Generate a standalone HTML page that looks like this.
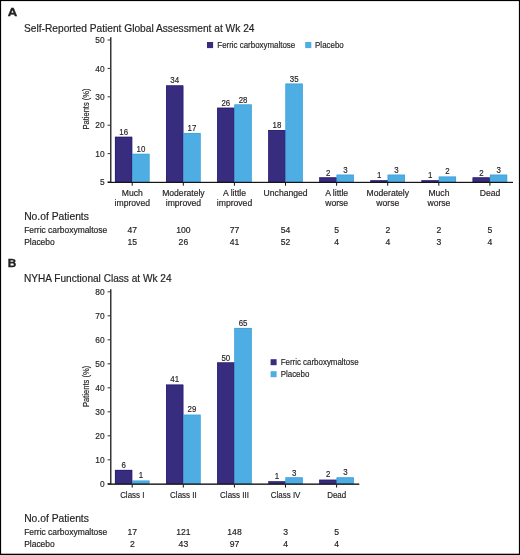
<!DOCTYPE html>
<html><head><meta charset="utf-8"><title>Figure</title>
<style>
html,body{margin:0;padding:0;background:#fff;}
body{width:520px;height:555px;overflow:hidden;}
svg{display:block;font-family:"Liberation Sans", sans-serif;will-change:transform;}
text{fill:#231f20;stroke:#231f20;stroke-width:0.18px;}
</style></head>
<body>
<svg width="520" height="555" viewBox="0 0 520 555">
<rect x="0.5" y="0.5" width="519" height="554" fill="none" stroke="#000" stroke-width="1.2"/>
<rect x="1.00" y="553.00" width="518.00" height="1.00" fill="#000" fill-opacity="0.22"/>
<text x="7.70" y="16.30" font-size="10.7" font-weight="bold" textLength="9.43" lengthAdjust="spacingAndGlyphs" style="stroke-width:0.35px">A</text>
<text x="24.00" y="31.90" font-size="10.2">Self-Reported Patient Global Assessment at Wk 24</text>
<rect x="207.00" y="42.00" width="6.10" height="6.10" fill="#372c7e"/>
<text x="217.30" y="47.80" font-size="8.7" textLength="77.87" lengthAdjust="spacingAndGlyphs">Ferric carboxymaltose</text>
<rect x="305.20" y="42.00" width="6.10" height="6.10" fill="#4eade2"/>
<text x="315.10" y="47.80" font-size="8.7" textLength="28.61" lengthAdjust="spacingAndGlyphs">Placebo</text>
<rect x="110.00" y="37.20" width="1.50" height="145.10" fill="#363636"/>
<rect x="107.60" y="181.50" width="2.60" height="1.00" fill="#363636"/>
<text x="104.60" y="185.20" font-size="9.2" text-anchor="end" textLength="4.66" lengthAdjust="spacingAndGlyphs">5</text>
<rect x="107.60" y="153.10" width="2.60" height="1.00" fill="#363636"/>
<text x="104.60" y="156.80" font-size="9.2" text-anchor="end" textLength="9.31" lengthAdjust="spacingAndGlyphs">10</text>
<rect x="107.60" y="124.70" width="2.60" height="1.00" fill="#363636"/>
<text x="104.60" y="128.40" font-size="9.2" text-anchor="end" textLength="9.31" lengthAdjust="spacingAndGlyphs">20</text>
<rect x="107.60" y="96.30" width="2.60" height="1.00" fill="#363636"/>
<text x="104.60" y="100.00" font-size="9.2" text-anchor="end" textLength="9.31" lengthAdjust="spacingAndGlyphs">30</text>
<rect x="107.60" y="67.90" width="2.60" height="1.00" fill="#363636"/>
<text x="104.60" y="71.60" font-size="9.2" text-anchor="end" textLength="9.31" lengthAdjust="spacingAndGlyphs">40</text>
<rect x="107.60" y="39.50" width="2.60" height="1.00" fill="#363636"/>
<text x="104.60" y="43.20" font-size="9.2" text-anchor="end" textLength="9.31" lengthAdjust="spacingAndGlyphs">50</text>
<rect x="114.95" y="136.80" width="17.25" height="45.50" fill="#372c7e"/>
<rect x="132.20" y="153.84" width="17.25" height="28.46" fill="#4eade2"/>
<rect x="115.25" y="137.10" width="16.65" height="44.90" fill="none" stroke="#261b74" stroke-width="0.6"/>
<rect x="132.50" y="154.14" width="16.65" height="27.86" fill="none" stroke="#3d9fdb" stroke-width="0.6"/>
<text x="123.67" y="135.10" font-size="9.2" text-anchor="middle" textLength="8.80" lengthAdjust="spacingAndGlyphs">16</text>
<text x="140.92" y="151.80" font-size="9.2" text-anchor="middle" textLength="8.80" lengthAdjust="spacingAndGlyphs">10</text>
<rect x="131.70" y="182.80" width="1.00" height="2.90" fill="#141414"/>
<rect x="166.05" y="85.48" width="17.25" height="96.82" fill="#372c7e"/>
<rect x="183.30" y="132.97" width="17.25" height="49.33" fill="#4eade2"/>
<rect x="166.35" y="85.78" width="16.65" height="96.22" fill="none" stroke="#261b74" stroke-width="0.6"/>
<rect x="183.60" y="133.27" width="16.65" height="48.73" fill="none" stroke="#3d9fdb" stroke-width="0.6"/>
<text x="174.77" y="82.60" font-size="9.2" text-anchor="middle" textLength="8.80" lengthAdjust="spacingAndGlyphs">34</text>
<text x="192.02" y="130.70" font-size="9.2" text-anchor="middle" textLength="8.80" lengthAdjust="spacingAndGlyphs">17</text>
<rect x="182.80" y="182.80" width="1.00" height="2.90" fill="#141414"/>
<rect x="217.15" y="107.75" width="17.25" height="74.55" fill="#372c7e"/>
<rect x="234.40" y="104.51" width="17.25" height="77.79" fill="#4eade2"/>
<rect x="217.45" y="108.05" width="16.65" height="73.95" fill="none" stroke="#261b74" stroke-width="0.6"/>
<rect x="234.70" y="104.81" width="16.65" height="77.19" fill="none" stroke="#3d9fdb" stroke-width="0.6"/>
<text x="225.87" y="105.80" font-size="9.2" text-anchor="middle" textLength="8.80" lengthAdjust="spacingAndGlyphs">26</text>
<text x="243.12" y="102.90" font-size="9.2" text-anchor="middle" textLength="8.80" lengthAdjust="spacingAndGlyphs">28</text>
<rect x="233.90" y="182.80" width="1.00" height="2.90" fill="#141414"/>
<rect x="268.25" y="130.02" width="17.25" height="52.28" fill="#372c7e"/>
<rect x="285.50" y="83.64" width="17.25" height="98.66" fill="#4eade2"/>
<rect x="268.55" y="130.32" width="16.65" height="51.68" fill="none" stroke="#261b74" stroke-width="0.6"/>
<rect x="285.80" y="83.94" width="16.65" height="98.06" fill="none" stroke="#3d9fdb" stroke-width="0.6"/>
<text x="276.98" y="127.80" font-size="9.2" text-anchor="middle" textLength="8.80" lengthAdjust="spacingAndGlyphs">18</text>
<text x="294.23" y="82.30" font-size="9.2" text-anchor="middle" textLength="8.80" lengthAdjust="spacingAndGlyphs">35</text>
<rect x="285.00" y="182.80" width="1.00" height="2.90" fill="#141414"/>
<rect x="319.35" y="177.46" width="17.25" height="4.84" fill="#372c7e"/>
<rect x="336.60" y="174.71" width="17.25" height="7.59" fill="#4eade2"/>
<rect x="319.65" y="177.76" width="16.65" height="4.24" fill="none" stroke="#261b74" stroke-width="0.6"/>
<rect x="336.90" y="175.01" width="16.65" height="6.99" fill="none" stroke="#3d9fdb" stroke-width="0.6"/>
<text x="328.08" y="175.90" font-size="9.2" text-anchor="middle" textLength="4.40" lengthAdjust="spacingAndGlyphs">2</text>
<text x="345.33" y="173.10" font-size="9.2" text-anchor="middle" textLength="4.40" lengthAdjust="spacingAndGlyphs">3</text>
<rect x="336.10" y="182.80" width="1.00" height="2.90" fill="#141414"/>
<rect x="370.45" y="180.36" width="17.25" height="1.94" fill="#372c7e"/>
<rect x="387.70" y="174.71" width="17.25" height="7.59" fill="#4eade2"/>
<rect x="370.75" y="180.66" width="16.65" height="1.34" fill="none" stroke="#261b74" stroke-width="0.6"/>
<rect x="388.00" y="175.01" width="16.65" height="6.99" fill="none" stroke="#3d9fdb" stroke-width="0.6"/>
<text x="379.18" y="178.20" font-size="9.2" text-anchor="middle" textLength="4.40" lengthAdjust="spacingAndGlyphs">1</text>
<text x="396.43" y="173.30" font-size="9.2" text-anchor="middle" textLength="4.40" lengthAdjust="spacingAndGlyphs">3</text>
<rect x="387.20" y="182.80" width="1.00" height="2.90" fill="#141414"/>
<rect x="421.55" y="180.36" width="17.25" height="1.94" fill="#372c7e"/>
<rect x="438.80" y="176.61" width="17.25" height="5.69" fill="#4eade2"/>
<rect x="421.85" y="180.66" width="16.65" height="1.34" fill="none" stroke="#261b74" stroke-width="0.6"/>
<rect x="439.10" y="176.91" width="16.65" height="5.09" fill="none" stroke="#3d9fdb" stroke-width="0.6"/>
<text x="430.28" y="178.20" font-size="9.2" text-anchor="middle" textLength="4.40" lengthAdjust="spacingAndGlyphs">1</text>
<text x="447.53" y="174.20" font-size="9.2" text-anchor="middle" textLength="4.40" lengthAdjust="spacingAndGlyphs">2</text>
<rect x="438.30" y="182.80" width="1.00" height="2.90" fill="#141414"/>
<rect x="472.65" y="177.46" width="17.25" height="4.84" fill="#372c7e"/>
<rect x="489.90" y="174.71" width="17.25" height="7.59" fill="#4eade2"/>
<rect x="472.95" y="177.76" width="16.65" height="4.24" fill="none" stroke="#261b74" stroke-width="0.6"/>
<rect x="490.20" y="175.01" width="16.65" height="6.99" fill="none" stroke="#3d9fdb" stroke-width="0.6"/>
<text x="481.38" y="175.90" font-size="9.2" text-anchor="middle" textLength="4.40" lengthAdjust="spacingAndGlyphs">2</text>
<text x="498.62" y="173.30" font-size="9.2" text-anchor="middle" textLength="4.40" lengthAdjust="spacingAndGlyphs">3</text>
<rect x="489.40" y="182.80" width="1.00" height="2.90" fill="#141414"/>
<rect x="107.70" y="181.80" width="405.30" height="1.20" fill="#141414"/>
<text x="132.30" y="196.30" font-size="8.6" text-anchor="middle">Much</text>
<text x="132.30" y="206.20" font-size="8.6" text-anchor="middle">improved</text>
<text x="183.40" y="196.30" font-size="8.6" text-anchor="middle">Moderately</text>
<text x="183.40" y="206.20" font-size="8.6" text-anchor="middle">improved</text>
<text x="234.50" y="196.30" font-size="8.6" text-anchor="middle">A little</text>
<text x="234.50" y="206.20" font-size="8.6" text-anchor="middle">improved</text>
<text x="285.60" y="196.30" font-size="8.6" text-anchor="middle">Unchanged</text>
<text x="336.70" y="196.30" font-size="8.6" text-anchor="middle">A little</text>
<text x="336.70" y="206.20" font-size="8.6" text-anchor="middle">worse</text>
<text x="387.80" y="196.30" font-size="8.6" text-anchor="middle">Moderately</text>
<text x="387.80" y="206.20" font-size="8.6" text-anchor="middle">worse</text>
<text x="438.90" y="196.30" font-size="8.6" text-anchor="middle">Much</text>
<text x="438.90" y="206.20" font-size="8.6" text-anchor="middle">worse</text>
<text x="490.00" y="196.30" font-size="8.6" text-anchor="middle">Dead</text>
<text transform="translate(88.9,109) rotate(-90)" font-size="9.6" text-anchor="middle" textLength="41.18" lengthAdjust="spacingAndGlyphs">Patients (%)</text>
<text x="24.20" y="219.60" font-size="10.3">No.of Patients</text>
<text x="24.20" y="232.60" font-size="8.45">Ferric carboxymaltose</text>
<text x="24.20" y="244.70" font-size="8.45">Placebo</text>
<text x="132.30" y="232.70" font-size="8.6" text-anchor="middle">47</text>
<text x="132.30" y="244.80" font-size="8.6" text-anchor="middle">15</text>
<text x="183.40" y="232.70" font-size="8.6" text-anchor="middle">100</text>
<text x="183.40" y="244.80" font-size="8.6" text-anchor="middle">26</text>
<text x="234.50" y="232.70" font-size="8.6" text-anchor="middle">77</text>
<text x="234.50" y="244.80" font-size="8.6" text-anchor="middle">41</text>
<text x="285.60" y="232.70" font-size="8.6" text-anchor="middle">54</text>
<text x="285.60" y="244.80" font-size="8.6" text-anchor="middle">52</text>
<text x="336.70" y="232.70" font-size="8.6" text-anchor="middle">5</text>
<text x="336.70" y="244.80" font-size="8.6" text-anchor="middle">4</text>
<text x="387.80" y="232.70" font-size="8.6" text-anchor="middle">2</text>
<text x="387.80" y="244.80" font-size="8.6" text-anchor="middle">4</text>
<text x="438.90" y="232.70" font-size="8.6" text-anchor="middle">2</text>
<text x="438.90" y="244.80" font-size="8.6" text-anchor="middle">3</text>
<text x="490.00" y="232.70" font-size="8.6" text-anchor="middle">5</text>
<text x="490.00" y="244.80" font-size="8.6" text-anchor="middle">4</text>
<text x="7.80" y="266.60" font-size="10.7" font-weight="bold" textLength="8.50" lengthAdjust="spacingAndGlyphs" style="stroke-width:0.35px">B</text>
<text x="24.00" y="281.90" font-size="10.1">NYHA Functional Class at Wk 24</text>
<rect x="110.00" y="289.20" width="1.50" height="194.75" fill="#363636"/>
<rect x="107.60" y="483.30" width="2.60" height="1.00" fill="#363636"/>
<text x="104.60" y="487.00" font-size="9.2" text-anchor="end" textLength="4.66" lengthAdjust="spacingAndGlyphs">0</text>
<rect x="107.60" y="459.30" width="2.60" height="1.00" fill="#363636"/>
<text x="104.60" y="463.00" font-size="9.2" text-anchor="end" textLength="9.31" lengthAdjust="spacingAndGlyphs">10</text>
<rect x="107.60" y="435.30" width="2.60" height="1.00" fill="#363636"/>
<text x="104.60" y="439.00" font-size="9.2" text-anchor="end" textLength="9.31" lengthAdjust="spacingAndGlyphs">20</text>
<rect x="107.60" y="411.30" width="2.60" height="1.00" fill="#363636"/>
<text x="104.60" y="415.00" font-size="9.2" text-anchor="end" textLength="9.31" lengthAdjust="spacingAndGlyphs">30</text>
<rect x="107.60" y="387.30" width="2.60" height="1.00" fill="#363636"/>
<text x="104.60" y="391.00" font-size="9.2" text-anchor="end" textLength="9.31" lengthAdjust="spacingAndGlyphs">40</text>
<rect x="107.60" y="363.30" width="2.60" height="1.00" fill="#363636"/>
<text x="104.60" y="367.00" font-size="9.2" text-anchor="end" textLength="9.31" lengthAdjust="spacingAndGlyphs">50</text>
<rect x="107.60" y="339.30" width="2.60" height="1.00" fill="#363636"/>
<text x="104.60" y="343.00" font-size="9.2" text-anchor="end" textLength="9.31" lengthAdjust="spacingAndGlyphs">60</text>
<rect x="107.60" y="315.30" width="2.60" height="1.00" fill="#363636"/>
<text x="104.60" y="319.00" font-size="9.2" text-anchor="end" textLength="9.31" lengthAdjust="spacingAndGlyphs">70</text>
<rect x="107.60" y="291.30" width="2.60" height="1.00" fill="#363636"/>
<text x="104.60" y="295.00" font-size="9.2" text-anchor="end" textLength="9.31" lengthAdjust="spacingAndGlyphs">80</text>
<rect x="114.95" y="469.92" width="17.25" height="13.94" fill="#372c7e"/>
<rect x="132.20" y="480.65" width="17.25" height="3.21" fill="#4eade2"/>
<rect x="115.25" y="470.22" width="16.65" height="13.34" fill="none" stroke="#261b74" stroke-width="0.6"/>
<rect x="132.50" y="480.95" width="16.65" height="2.61" fill="none" stroke="#3d9fdb" stroke-width="0.6"/>
<text x="123.67" y="468.30" font-size="9.2" text-anchor="middle" textLength="4.40" lengthAdjust="spacingAndGlyphs">6</text>
<text x="140.92" y="478.20" font-size="9.2" text-anchor="middle" textLength="4.40" lengthAdjust="spacingAndGlyphs">1</text>
<rect x="131.70" y="484.65" width="1.00" height="2.90" fill="#141414"/>
<rect x="166.05" y="384.63" width="17.25" height="99.23" fill="#372c7e"/>
<rect x="183.30" y="414.74" width="17.25" height="69.12" fill="#4eade2"/>
<rect x="166.35" y="384.93" width="16.65" height="98.63" fill="none" stroke="#261b74" stroke-width="0.6"/>
<rect x="183.60" y="415.04" width="16.65" height="68.52" fill="none" stroke="#3d9fdb" stroke-width="0.6"/>
<text x="174.77" y="382.30" font-size="9.2" text-anchor="middle" textLength="8.80" lengthAdjust="spacingAndGlyphs">41</text>
<text x="192.02" y="412.40" font-size="9.2" text-anchor="middle" textLength="8.80" lengthAdjust="spacingAndGlyphs">29</text>
<rect x="182.80" y="484.65" width="1.00" height="2.90" fill="#141414"/>
<rect x="217.15" y="362.49" width="17.25" height="121.37" fill="#372c7e"/>
<rect x="234.40" y="327.95" width="17.25" height="155.91" fill="#4eade2"/>
<rect x="217.45" y="362.79" width="16.65" height="120.77" fill="none" stroke="#261b74" stroke-width="0.6"/>
<rect x="234.70" y="328.25" width="16.65" height="155.31" fill="none" stroke="#3d9fdb" stroke-width="0.6"/>
<text x="225.87" y="361.20" font-size="9.2" text-anchor="middle" textLength="8.80" lengthAdjust="spacingAndGlyphs">50</text>
<text x="243.12" y="326.10" font-size="9.2" text-anchor="middle" textLength="8.80" lengthAdjust="spacingAndGlyphs">65</text>
<rect x="233.90" y="484.65" width="1.00" height="2.90" fill="#141414"/>
<rect x="268.25" y="481.40" width="17.25" height="2.46" fill="#372c7e"/>
<rect x="285.50" y="477.43" width="17.25" height="6.43" fill="#4eade2"/>
<rect x="268.55" y="481.70" width="16.65" height="1.86" fill="none" stroke="#261b74" stroke-width="0.6"/>
<rect x="285.80" y="477.73" width="16.65" height="5.83" fill="none" stroke="#3d9fdb" stroke-width="0.6"/>
<text x="276.98" y="478.80" font-size="9.2" text-anchor="middle" textLength="4.40" lengthAdjust="spacingAndGlyphs">1</text>
<text x="294.23" y="476.20" font-size="9.2" text-anchor="middle" textLength="4.40" lengthAdjust="spacingAndGlyphs">3</text>
<rect x="285.00" y="484.65" width="1.00" height="2.90" fill="#141414"/>
<rect x="319.35" y="479.76" width="17.25" height="4.10" fill="#372c7e"/>
<rect x="336.60" y="477.43" width="17.25" height="6.43" fill="#4eade2"/>
<rect x="319.65" y="480.06" width="16.65" height="3.50" fill="none" stroke="#261b74" stroke-width="0.6"/>
<rect x="336.90" y="477.73" width="16.65" height="5.83" fill="none" stroke="#3d9fdb" stroke-width="0.6"/>
<text x="328.08" y="477.40" font-size="9.2" text-anchor="middle" textLength="4.40" lengthAdjust="spacingAndGlyphs">2</text>
<text x="345.33" y="474.70" font-size="9.2" text-anchor="middle" textLength="4.40" lengthAdjust="spacingAndGlyphs">3</text>
<rect x="336.10" y="484.65" width="1.00" height="2.90" fill="#141414"/>
<rect x="107.70" y="483.45" width="251.60" height="1.40" fill="#141414"/>
<text x="132.30" y="497.90" font-size="9.0" text-anchor="middle" textLength="24.34" lengthAdjust="spacingAndGlyphs">Class I</text>
<text x="183.40" y="497.90" font-size="9.0" text-anchor="middle" textLength="26.56" lengthAdjust="spacingAndGlyphs">Class II</text>
<text x="234.50" y="497.90" font-size="9.0" text-anchor="middle" textLength="28.77" lengthAdjust="spacingAndGlyphs">Class III</text>
<text x="285.60" y="497.90" font-size="9.0" text-anchor="middle" textLength="29.66" lengthAdjust="spacingAndGlyphs">Class IV</text>
<text x="336.70" y="497.90" font-size="9.0" text-anchor="middle" textLength="19.04" lengthAdjust="spacingAndGlyphs">Dead</text>
<text transform="translate(88.9,386.4) rotate(-90)" font-size="9.6" text-anchor="middle" textLength="41.18" lengthAdjust="spacingAndGlyphs">Patients (%)</text>
<rect x="270.60" y="359.20" width="6.00" height="6.00" fill="#372c7e"/>
<text x="280.70" y="365.00" font-size="8.7" textLength="77.87" lengthAdjust="spacingAndGlyphs">Ferric carboxymaltose</text>
<rect x="270.60" y="371.20" width="6.00" height="6.00" fill="#4eade2"/>
<text x="280.70" y="376.80" font-size="8.7" textLength="28.61" lengthAdjust="spacingAndGlyphs">Placebo</text>
<text x="24.20" y="521.80" font-size="10.3">No.of Patients</text>
<text x="24.20" y="534.70" font-size="8.45">Ferric carboxymaltose</text>
<text x="24.20" y="546.70" font-size="8.45">Placebo</text>
<text x="132.30" y="534.80" font-size="8.6" text-anchor="middle">17</text>
<text x="132.30" y="546.80" font-size="8.6" text-anchor="middle">2</text>
<text x="183.40" y="534.80" font-size="8.6" text-anchor="middle">121</text>
<text x="183.40" y="546.80" font-size="8.6" text-anchor="middle">43</text>
<text x="234.50" y="534.80" font-size="8.6" text-anchor="middle">148</text>
<text x="234.50" y="546.80" font-size="8.6" text-anchor="middle">97</text>
<text x="285.60" y="534.80" font-size="8.6" text-anchor="middle">3</text>
<text x="285.60" y="546.80" font-size="8.6" text-anchor="middle">4</text>
<text x="336.70" y="534.80" font-size="8.6" text-anchor="middle">5</text>
<text x="336.70" y="546.80" font-size="8.6" text-anchor="middle">4</text>
</svg>
</body></html>
